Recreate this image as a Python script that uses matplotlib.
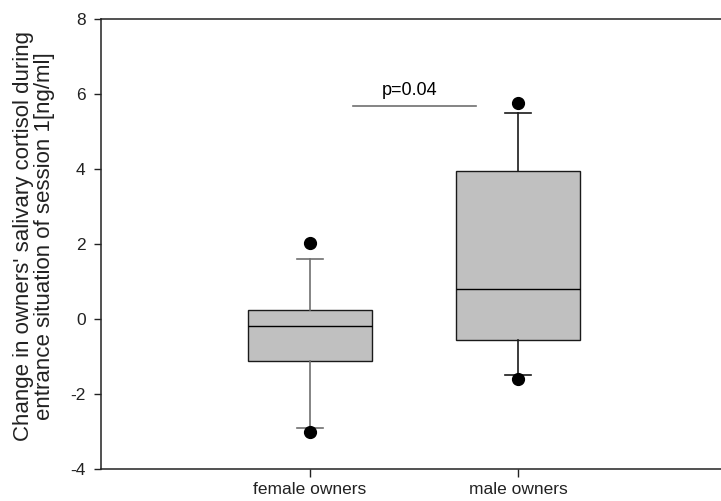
import matplotlib
matplotlib.use("Agg")
import matplotlib.pyplot as plt

plt.rcParams['font.family'] = ['Liberation Sans', 'DejaVu Sans']
plt.rcParams['axes.unicode_minus'] = False

# datos
grupos = ['female owners', 'male owners']
q1 = [-1.12, -0.55]
mediana = [-0.18, 0.79]
q3 = [0.24, 3.96]
bigote_inf = [-2.9, -1.49]
bigote_sup = [1.6, 5.49]
atipicos = [[2.03, -3.0], [5.77, -1.61]]
p_texto = 'p=0.04'
p_nivel = 5.69

fig = plt.figure(figsize=(7.21, 5.01), dpi=100)
ax = fig.add_axes([101 / 721, 32 / 501, 620 / 721, 450 / 501])

stats = []
for i in range(len(grupos)):
    stats.append({'med': mediana[i], 'q1': q1[i], 'q3': q3[i],
                  'whislo': bigote_inf[i], 'whishi': bigote_sup[i],
                  'fliers': atipicos[i], 'label': grupos[i]})

bp = ax.bxp(stats, positions=[1, 2], widths=0.6, capwidths=0.125,
            patch_artist=True,
            boxprops=dict(facecolor='#c0c0c0', edgecolor='#1a1a1a', linewidth=1),
            medianprops=dict(color='black', linewidth=1),
            whiskerprops=dict(color='#707070', linewidth=1.2),
            capprops=dict(color='#707070', linewidth=1.2),
            flierprops=dict(marker='o', markerfacecolor='black',
                            markeredgecolor='black', markersize=8.5))

# bigotes del segundo grupo en negro
for linea in bp['whiskers'][2:] + bp['caps'][2:]:
    linea.set_color('#1a1a1a')

# linea de significancia
ax.plot([1.205, 1.80], [p_nivel, p_nivel], color='#707070', linewidth=1.2)
ax.text(1.48, p_nivel + 0.17, p_texto, ha='center', va='bottom', fontsize=13)

ax.set_xlim(-0.005, 2.976)
ax.set_ylim(-4, 8)
ax.set_yticks([-4, -2, 0, 2, 4, 6, 8])
ax.set_xticks([1, 2])
ax.set_xticklabels(grupos)

ax.spines['right'].set_visible(False)
for lado in ['top', 'bottom', 'left']:
    ax.spines[lado].set_color('#222222')
    ax.spines[lado].set_linewidth(1.1)

ax.tick_params(axis='y', direction='out', length=5, width=1, pad=6, labelsize=12.5, colors='#222222')
ax.tick_params(axis='x', direction='out', length=6, width=1, pad=3, labelsize=12.5, colors='#222222')

fig.text(34 / 721, 1 - 236 / 501,
         "Change in owners' salivary cortisol during\nentrance situation of session 1[ng/ml]",
         rotation=90, ha='center', va='center', multialignment='center',
         fontsize=16, color='#222222', linespacing=0.95)

fig.savefig('out.png', dpi=100)
